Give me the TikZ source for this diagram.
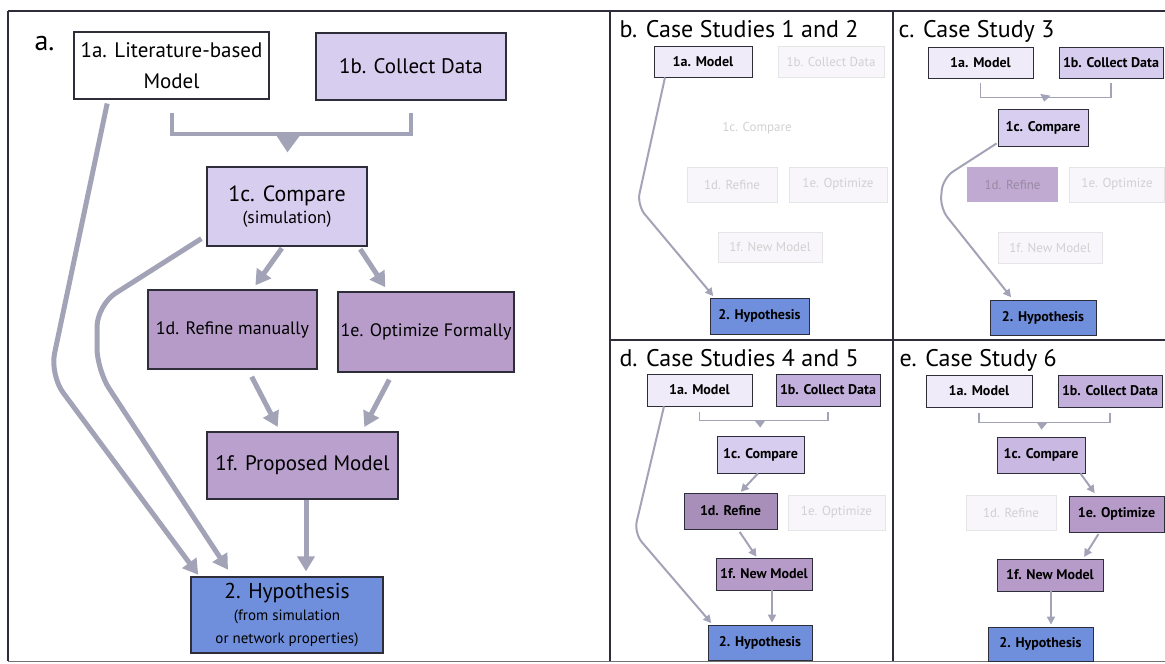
\documentclass[tikz,border=0pt]{standalone}
\usepackage{fontspec}
\setmainfont{PT Sans}
\usetikzlibrary{arrows.meta, positioning}

\definecolor{kant}{HTML}{2E2E3A}
\definecolor{lys}{HTML}{F0EBF8}
\definecolor{lilla}{HTML}{D6CDEF}
\definecolor{lillamork}{HTML}{C4B0DC}
\definecolor{mauve}{HTML}{B69BC9}
\definecolor{blaa}{HTML}{6F8FDC}
\definecolor{pilfarge}{HTML}{A3A3B8}

\begin{document}
\begin{tikzpicture}[
    x=1pt, y=-1pt,
    boks/.style = {rectangle, draw=kant, line width=1.2pt, inner sep=1pt, align=center},
    liten/.style = {boks, line width=0.8pt, font=\fontsize{14}{16}\selectfont\bfseries},
    falmet/.style = {rectangle, draw=black!10, fill=lys!50, text=black!18, line width=0.6pt,
                     font=\fontsize{13}{15}\selectfont},
    pil/.style = {draw=pilfarge, line width=5pt, -{Triangle[width=17pt,length=15pt]}},
    tynnpil/.style = {draw=pilfarge, line width=2pt, -{Triangle[width=8pt,length=8pt]}},
    klamme/.style = {draw=pilfarge, line width=4pt},
    tittel/.style = {anchor=base west, font=\fontsize{24}{26}\selectfont}
    ]

  \useasboundingbox (0,0) rectangle (1165,664);

  % frames
  \draw[kant, line width=1.5pt] (8,11) -- (1165,11);
  \draw[kant, line width=1.5pt] (8,11) -- (8,661);
  \draw[black!55, line width=1pt] (8,661) -- (1165,661);
  \draw[kant, line width=1.5pt] (610,11) -- (610,661);
  \draw[kant, line width=1.5pt] (893,11) -- (893,661);
  \draw[kant, line width=1.5pt] (610,340) -- (1165,340);

  % panel a
  \node[anchor=base west, font=\fontsize{28}{30}\selectfont] (atit) at (31,50) {a.};
  \node[boks, fill=white, minimum width=195pt, minimum height=67pt,
        font=\fontsize{21}{31}\selectfont] (a1a) at (171.5,65.5) {1a. Literature-based\\Model};
  \node[boks, fill=lilla, minimum width=190pt, minimum height=67pt,
        font=\fontsize{21}{24}\selectfont] (a1b) at (411,66.5) {1b. Collect Data};
  \node[boks, fill=lilla, minimum width=160pt, minimum height=79pt,
        font=\fontsize{22}{25}\selectfont] (a1c) at (287,206.5)
        {1c. Compare\\[-3pt]{\fontsize{17.5}{19}\selectfont (simulation)}};
  \node[boks, fill=mauve, minimum width=169pt, minimum height=79pt,
        font=\fontsize{18}{22}\selectfont] (a1d) at (232.5,329.5) {1d. Refine manually};
  \node[boks, fill=mauve!95!lilla, minimum width=176pt, minimum height=80pt,
        font=\fontsize{18}{22}\selectfont] (a1e) at (426,332) {1e. Optimize Formally};
  \node[boks, fill=mauve!90!lilla, minimum width=191pt, minimum height=67pt,
        font=\fontsize{21}{26}\selectfont] (a1f) at (302.5,465.5) {1f. Proposed Model};
  \node[boks, fill=blaa, minimum width=192pt, minimum height=76pt,
        font=\fontsize{21.5}{26}\selectfont] (a2) at (287,615)
        {2. Hypothesis\\[-4pt]{\fontsize{15}{19}\selectfont (from simulation}\\[-3pt]
         {\fontsize{15}{19}\selectfont or network properties)}};

  \coordinate (abr) at (288,133);
  \coordinate (ak1) at (50,375);
  \coordinate (ak2) at (97,305);
  \coordinate (ak3) at (97,370);

  \draw[klamme] ([yshift=-13pt]a1a.south) -- ++(0,21) -| ([yshift=-12pt]a1b.south);
  \draw[pil, line width=4pt, -{Triangle[width=24pt,length=18pt]}, shorten >=14pt] (abr) -- (a1c.north);
  \draw[pil, shorten <=2pt, shorten >=5pt] ([xshift=-4pt]a1c.south) -- ([xshift=20pt]a1d.north);
  \draw[pil, shorten <=3pt, shorten >=5pt] ([xshift=-9pt]a1c.south east) -- ([xshift=-38pt]a1e.north);
  \draw[pil, shorten <=8pt, shorten >=5pt] ([xshift=15.5pt]a1d.south) -- ([xshift=-22.5pt]a1f.north);
  \draw[pil, shorten <=8pt, shorten >=5pt] ([xshift=-33pt]a1e.south) -- ([xshift=59.5pt]a1f.north);
  \draw[pil, shorten >=5pt] ([xshift=3.5pt]a1f.south) -- ([xshift=19pt]a2.north);
  \draw[pil, rounded corners=22pt, shorten <=4pt, shorten >=2pt]
    ([xshift=-63.5pt]a1a.south) -- (ak1) -- ([xshift=9pt]a2.north west);
  \draw[pil, rounded corners=22pt, shorten >=8pt]
    ([xshift=-5pt,yshift=8pt]a1c.south west) -- (ak2) -- (ak3) -- ([xshift=42pt]a2.north west);

  % panel b
  \node[tittel] (btit) at (616,37) {b. Case Studies 1 and 2};
  \node[liten, fill=lys, minimum width=98pt, minimum height=31pt] (b1a) at (703,61.5) {1a. Model};
  \node[falmet, minimum width=106pt, minimum height=31pt] (b1b) at (831,61.5) {1b. Collect Data};
  \node[falmet, draw=none, fill=none, minimum width=90pt, minimum height=36pt] (b1c) at (757,128) {1c. Compare};
  \node[falmet, minimum width=90pt, minimum height=35pt] (b1d) at (732,184.5) {1d. Refine};
  \node[falmet, minimum width=98pt, minimum height=35pt] (b1e) at (838,184.5) {1e. Optimize};
  \node[falmet, minimum width=104pt, minimum height=30pt] (b1f) at (770,247) {1f. New Model};
  \node[liten, fill=blaa, minimum width=99pt, minimum height=36pt] (b2) at (759.5,316) {2. Hypothesis};

  \coordinate (bk1) at (637,205);
  \draw[tynnpil, rounded corners=12pt, shorten >=2pt]
    ([xshift=-38pt]b1a.south) -- (bk1) -- ([xshift=5pt]b2.north west);

  % panel c
  \node[tittel] (ctit) at (895,37) {c. Case Study 3};
  \node[liten, fill=lys, minimum width=105pt, minimum height=31pt] (c1a) at (980.5,62.5) {1a. Model};
  \node[liten, fill=lilla, minimum width=104pt, minimum height=31pt] (c1b) at (1111,62.5) {1b. Collect Data};
  \node[liten, fill=lilla!95!white, minimum width=90pt, minimum height=37pt] (c1c) at (1043,127.5) {1c. Compare};
  \node[falmet, draw=none, fill=mauve!85, text=mauve!70!black!80, minimum width=91pt, minimum height=35pt]
    (c1d) at (1012.5,184.5) {1d. Refine};
  \node[falmet, minimum width=95pt, minimum height=35pt] (c1e) at (1117,184.5) {1e. Optimize};
  \node[falmet, minimum width=104pt, minimum height=31pt] (c1f) at (1050,247.5) {1f. New Model};
  \node[liten, fill=blaa, minimum width=106pt, minimum height=35pt] (c2) at (1043,317.5) {2. Hypothesis};

  \coordinate (cbr) at (1045,97);
  \coordinate (ck1) at (943,178);
  \coordinate (ck2) at (940,208);
  \draw[klamme, line width=1.5pt] ([yshift=-5pt]c1a.south) -- ++(0,14) -| ([yshift=-5pt]c1b.south);
  \draw[tynnpil, line width=1.5pt, -{Triangle[width=10pt,length=7pt]}, shorten >=7pt] (cbr) -- (c1c.north);
  \draw[tynnpil, rounded corners=12pt, shorten >=3pt]
    ([xshift=-1pt,yshift=3pt]c1c.south west) -- (ck1) -- (ck2) -- ([xshift=-30pt]c2.north);

  % panel d
  \node[tittel] (dtit) at (616,366) {d. Case Studies 4 and 5};
  \node[liten, fill=lys, minimum width=105pt, minimum height=32pt] (d1a) at (699.5,390) {1a. Model};
  \node[liten, fill=lillamork, minimum width=104pt, minimum height=32pt] (d1b) at (828,390) {1b. Collect Data};
  \node[liten, fill=lilla, minimum width=87pt, minimum height=37pt] (d1c) at (760.5,454.5) {1c. Compare};
  \node[liten, fill=mauve!92!black, minimum width=93pt, minimum height=36pt] (d1d) at (730.5,511) {1d. Refine};
  \node[falmet, minimum width=97pt, minimum height=35pt] (d1e) at (836.5,512.5) {1e. Optimize};
  \node[liten, fill=mauve, minimum width=96pt, minimum height=32pt] (d1f) at (764,574) {1f. New Model};
  \node[liten, fill=blaa, minimum width=104pt, minimum height=35pt] (d2) at (760,642.5) {2. Hypothesis};

  \coordinate (dbr) at (760,420);
  \coordinate (dk1) at (634,533);
  \draw[klamme, line width=1.5pt] ([yshift=-6pt]d1a.south) -- ++(0,8) -| ([yshift=-6pt]d1b.south);
  \draw[tynnpil, line width=1.5pt, -{Triangle[width=10pt,length=7pt]}, shorten >=8pt] (dbr) -- (d1c.north);
  \draw[tynnpil, shorten >=1pt] ([xshift=-2.5pt]d1c.south) -- ([xshift=9.5pt]d1d.north);
  \draw[tynnpil, shorten <=3pt, shorten >=1pt] ([xshift=7.5pt]d1d.south) -- ([xshift=-7pt]d1f.north);
  \draw[tynnpil, shorten >=2pt] ([xshift=8pt]d1f.south) -- ([xshift=12pt]d2.north);
  \draw[tynnpil, rounded corners=12pt, shorten >=2pt]
    ([xshift=-35.5pt]d1a.south) -- (dk1) -- ([xshift=5pt]d2.north west);

  % panel e
  \node[tittel] (etit) at (896,366) {e. Case Study 6};
  \node[liten, fill=lys, minimum width=106pt, minimum height=32pt] (e1a) at (979,391) {1a. Model};
  \node[liten, fill=lillamork, minimum width=104pt, minimum height=32pt] (e1b) at (1110,391) {1b. Collect Data};
  \node[liten, fill=lillamork!70!lilla, minimum width=88pt, minimum height=36pt] (e1c) at (1041,455) {1c. Compare};
  \node[falmet, minimum width=90pt, minimum height=35pt] (e1d) at (1011,512.5) {1d. Refine};
  \node[liten, fill=mauve, minimum width=95pt, minimum height=36pt] (e1e) at (1116.5,514) {1e. Optimize};
  \node[liten, fill=mauve, minimum width=106pt, minimum height=32pt] (e1f) at (1050,575) {1f. New Model};
  \node[liten, fill=blaa, minimum width=105pt, minimum height=34pt] (e2) at (1040.5,644) {2. Hypothesis};

  \coordinate (ebr) at (1042,422);
  \draw[klamme, line width=1.5pt] ([yshift=-6pt]e1a.south) -- ++(0,9) -| ([yshift=-6pt]e1b.south);
  \draw[tynnpil, line width=1.5pt, -{Triangle[width=10pt,length=7pt]}, shorten >=7pt] (ebr) -- (e1c.north);
  \draw[tynnpil, shorten >=3pt] ([xshift=-5pt]e1c.south east) -- ([xshift=-20pt]e1e.north);
  \draw[tynnpil, shorten <=2pt, shorten >=2pt] ([xshift=-17pt]e1e.south) -- ([xshift=33pt]e1f.north);
  \draw[tynnpil, shorten >=2pt] ([xshift=1pt]e1f.south) -- ([xshift=10.5pt]e2.north);
\end{tikzpicture}
\end{document}
